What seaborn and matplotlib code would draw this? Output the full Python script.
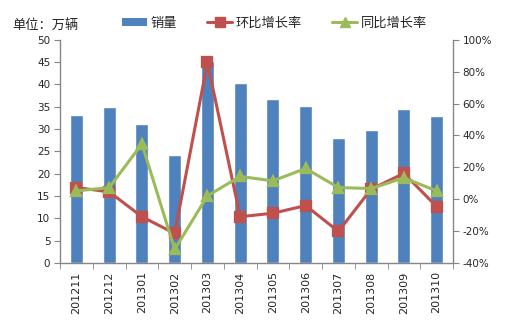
import matplotlib
matplotlib.use("Agg")
import matplotlib.pyplot as plt
import seaborn as sns
import numpy as np
import pandas as pd
from matplotlib.lines import Line2D
from matplotlib.patches import Patch
from matplotlib.ticker import FuncFormatter, MultipleLocator, FixedLocator

months = ["201211", "201212", "201301", "201302", "201303", "201304",
          "201305", "201306", "201307", "201308", "201309", "201310"]
sales = [33.1, 34.9, 31.1, 24.3, 45.3, 40.3, 36.7, 35.1, 28.0, 29.8, 34.5, 32.9]
mom = [7.3, 4.6, -11.0, -21.5, 85.8, -11.0, -8.8, -4.0, -20.2, 6.3, 16.2, -4.6]
yoy = [5.2, 7.3, 34.7, -31.5, 2.1, 14.3, 11.5, 19.3, 7.3, 6.7, 13.4, 5.2]

BLUE = "#4F81BD"
RED = "#C0504D"
GREEN = "#9BBB59"
GRAY = "#868686"

sns.set_style("white")
plt.rcParams["font.family"] = ["DejaVu Sans", "Noto Sans CJK SC"]
CJK = ["Noto Sans CJK SC", "DejaVu Sans"]

df = pd.DataFrame({"month": months, "sales": sales, "mom": mom, "yoy": yoy})

fig = plt.figure(figsize=(5.05, 3.32), dpi=100)
ax = fig.add_axes([0.119, 0.208, 0.778, 0.672])

sns.barplot(data=df, x="month", y="sales", ax=ax, color=BLUE, width=0.4,
            saturation=1, order=months)
ax2 = ax.twinx()
sns.pointplot(data=df, x="month", y="mom", ax=ax2, color=RED, markers="s",
              order=months, linewidth=2.2, markersize=6.5)
sns.pointplot(data=df, x="month", y="yoy", ax=ax2, color=GREEN, markers="^",
              order=months, linewidth=2.2, markersize=7)

ax.set_xlim(-0.5, len(months) - 0.5)
ax.set_ylim(0, 50)
ax2.set_ylim(-40, 100)
ax.yaxis.set_major_locator(MultipleLocator(5))
ax2.yaxis.set_major_locator(MultipleLocator(20))
ax2.yaxis.set_major_formatter(FuncFormatter(lambda v, p: f"{int(round(v))}%"))

for a in (ax, ax2):
    a.set_xlabel("")
    a.set_ylabel("")
    for s in a.spines.values():
        s.set_color(GRAY)
        s.set_linewidth(1.0)
    a.spines["top"].set_visible(False)
ax.spines["right"].set_visible(False)
ax2.spines["left"].set_visible(False)
ax2.spines["bottom"].set_visible(False)

ax.tick_params(axis="y", direction="out", length=4, color=GRAY, labelsize=7.5,
               pad=3, left=True)
ax2.tick_params(axis="y", direction="out", length=4, color=GRAY, labelsize=7.5,
                pad=3, right=True)
ax.set_xticks(range(len(months)))
ax.set_xticklabels(months, rotation=90, fontsize=8)
ax.tick_params(axis="x", which="major", length=0, pad=6)
ax.xaxis.set_minor_locator(FixedLocator(np.arange(-0.5, len(months), 1.0)))
ax.tick_params(axis="x", which="minor", direction="out", length=4, color=GRAY,
               bottom=True)
ax2.tick_params(axis="x", which="both", length=0)

fig.text(0.024, 0.925, "单位：万辆", fontsize=9.5, family=CJK, va="center")

handles = [
    Patch(facecolor=BLUE, edgecolor="none"),
    Line2D([], [], color=RED, lw=2.2, marker="s", markersize=6.5),
    Line2D([], [], color=GREEN, lw=2.2, marker="^", markersize=7),
]
labels = ["销量", "环比增长率", "同比增长率"]
fig.legend(handles, labels, loc="center left", bbox_to_anchor=(0.2416, 0.93),
           ncol=3, frameon=False, prop={"family": CJK, "size": 9.5},
           handlelength=1.9, handletextpad=0.25, columnspacing=2.3,
           handleheight=0.6, borderpad=0, borderaxespad=0)

fig.savefig("out.png", dpi=100)
